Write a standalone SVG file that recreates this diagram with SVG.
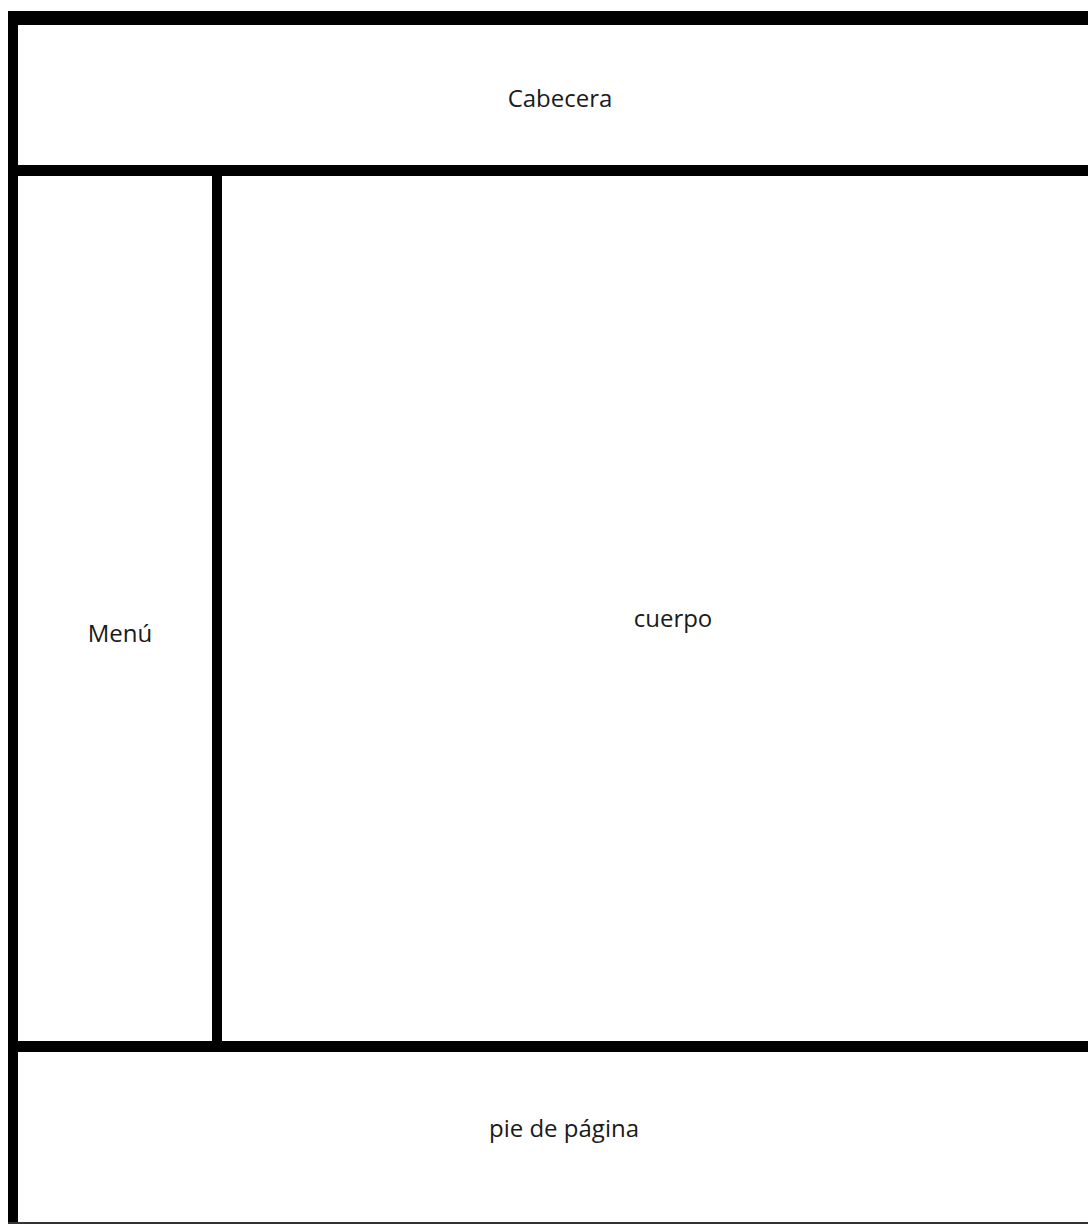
<svg xmlns="http://www.w3.org/2000/svg" width="1088" height="1226" viewBox="0 0 1088 1226">
<style>
.b{fill:#000}
.t{font-family:"Open Sans","Noto Sans",sans-serif;font-size:24px;fill:#1a1a1a;text-anchor:middle}
</style>
<rect width="1088" height="1226" fill="#fff"/>
<g id="frame">
<rect class="b" x="8" y="11" width="1080" height="14"/>
<rect class="b" x="8" y="11" width="10" height="1213"/>
<rect x="8" y="1222" width="1080" height="2" fill="#333"/>
</g>
<g id="cabecera">
<rect class="b" x="8" y="165" width="1080" height="11"/>
<text class="t" x="560" y="107">Cabecera</text>
</g>
<g id="menu">
<rect class="b" x="212" y="165" width="10" height="887"/>
<text class="t" x="120" y="642">Menú</text>
</g>
<g id="cuerpo">
<text class="t" x="673" y="627">cuerpo</text>
</g>
<g id="pie">
<rect class="b" x="8" y="1041" width="1080" height="11"/>
<text class="t" x="564" y="1137">pie de página</text>
</g>
<g id="connectors"/>
</svg>
